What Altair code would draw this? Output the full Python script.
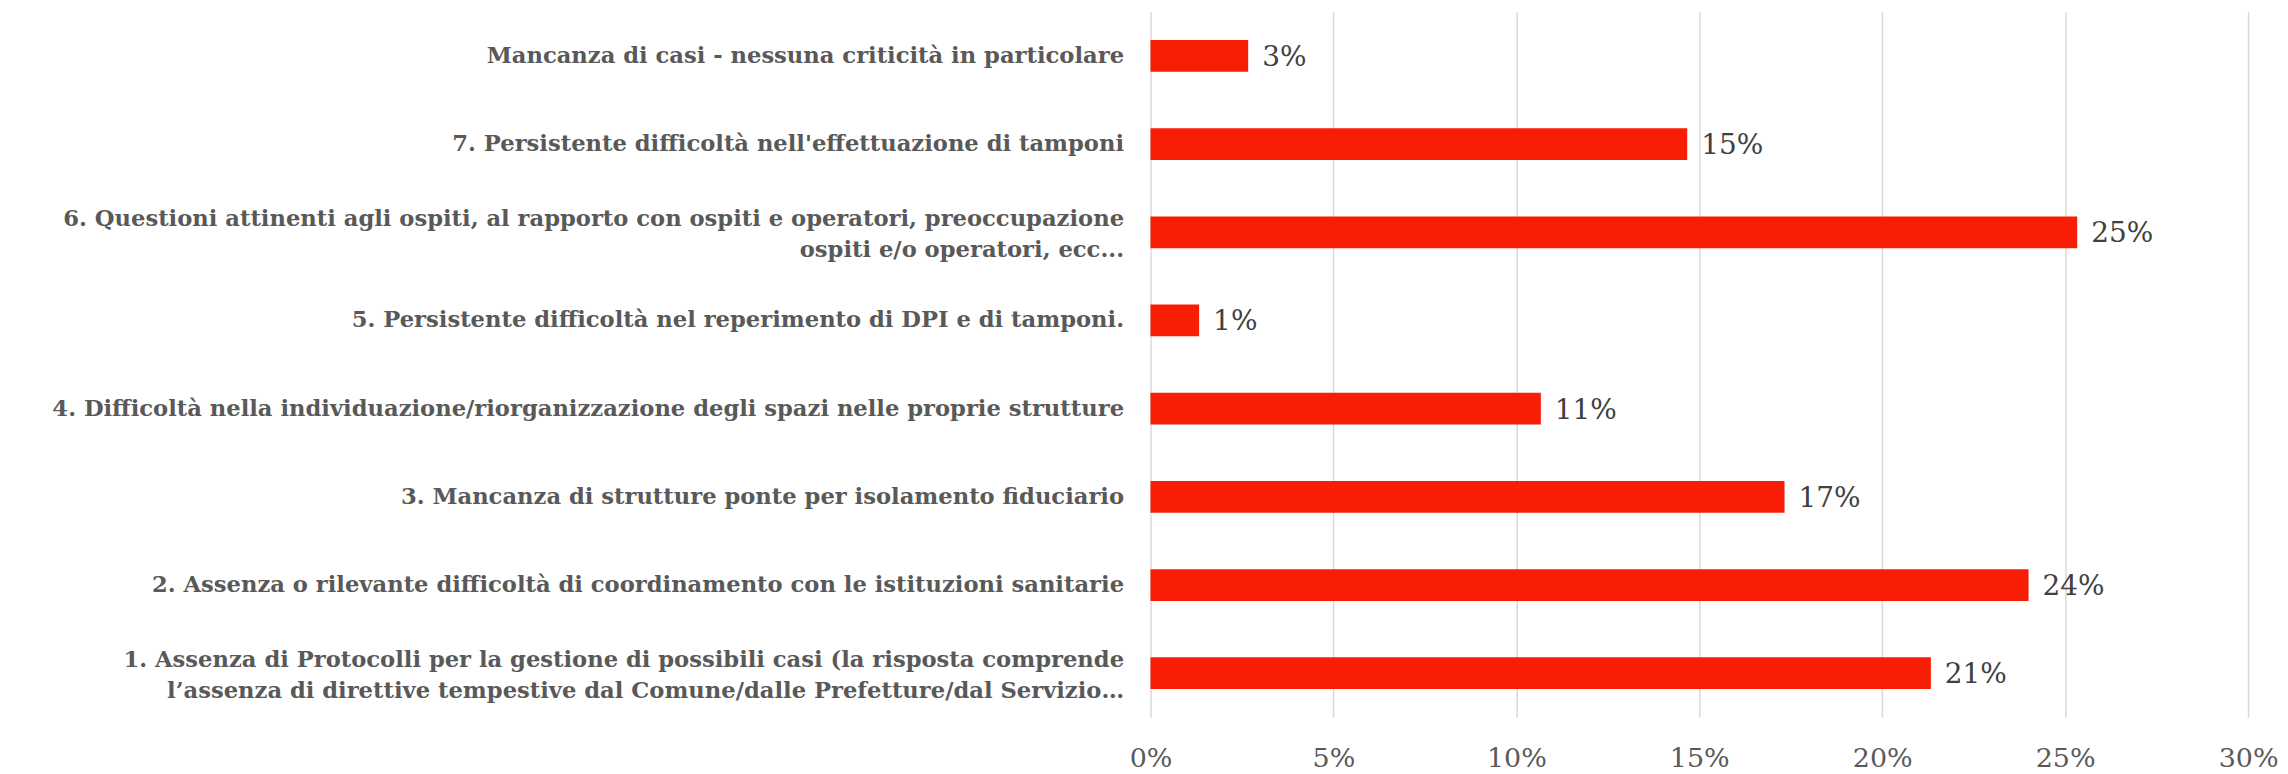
import altair as alt
import pandas as pd

categories = [
    "Mancanza di casi - nessuna criticità in particolare",
    "7. Persistente difficoltà nell'effettuazione di tamponi",
    "6. Questioni attinenti agli ospiti, al rapporto con ospiti e operatori, preoccupazione\nospiti e/o operatori, ecc...",
    "5. Persistente difficoltà nel reperimento di DPI e di tamponi.",
    "4. Difficoltà nella individuazione/riorganizzazione degli spazi nelle proprie strutture",
    "3. Mancanza di strutture ponte per isolamento fiduciario",
    "2. Assenza o rilevante difficoltà di coordinamento con le istituzioni sanitarie",
    "1. Assenza di Protocolli  per la gestione di possibili casi (la risposta comprende\nl’assenza di direttive tempestive  dal Comune/dalle Prefetture/dal Servizio…",
]
values = [0.0267, 0.1467, 0.2533, 0.0133, 0.1067, 0.1733, 0.2400, 0.2133]
value_labels = ["3%", "15%", "25%", "1%", "11%", "17%", "24%", "21%"]

df = pd.DataFrame({"cat": categories, "val": values, "lab": value_labels})

FONT = "DejaVu Serif"

y_enc = alt.Y(
    "cat:N",
    sort=None,
    title=None,
    scale=alt.Scale(paddingInner=0.64, paddingOuter=0.32),
    axis=alt.Axis(
        labelExpr="split(datum.value, '\\n')",
        labelFont=FONT,
        labelFontWeight="bold",
        labelFontSize=22.7,
        labelColor="#595959",
        labelLineHeight=31,
        labelLimit=1200,
        labelPadding=27,
        labelOffset=alt.condition("indexof(datum.value, '\\n') >= 0", alt.value(-13), alt.value(0)),
        ticks=False,
        domain=False,
    ),
)

x_enc = alt.X(
    "val:Q",
    title=None,
    scale=alt.Scale(domain=[0, 0.30], nice=False),
    axis=alt.Axis(
        format=".0%",
        values=[0, 0.05, 0.10, 0.15, 0.20, 0.25, 0.30],
        labelFont=FONT,
        labelFontSize=27,
        labelColor="#595959",
        labelPadding=28,
        labelFlush=False,
        ticks=False,
        domain=False,
        grid=True,
        gridColor="#d9d9d9",
        gridWidth=1.5,
    ),
)

bars = alt.Chart(df).mark_bar(color="#F81D05").encode(x=x_enc, y=y_enc)

texts = alt.Chart(df).mark_text(
    align="left", baseline="middle", dx=14, dy=2,
    font=FONT, fontSize=28, color="#404040"
).encode(x="val:Q", y=alt.Y("cat:N", sort=None), text="lab:N")

chart = (bars + texts).properties(
    width=1100,
    height=707,
    background="white",
    autosize=alt.AutoSizeParams(type="none"),
    padding={"left": 1145, "top": 3, "right": 32, "bottom": 60},
).configure_view(stroke=None)

chart.save("out.html", embed_options={"renderer": "svg", "actions": False})
